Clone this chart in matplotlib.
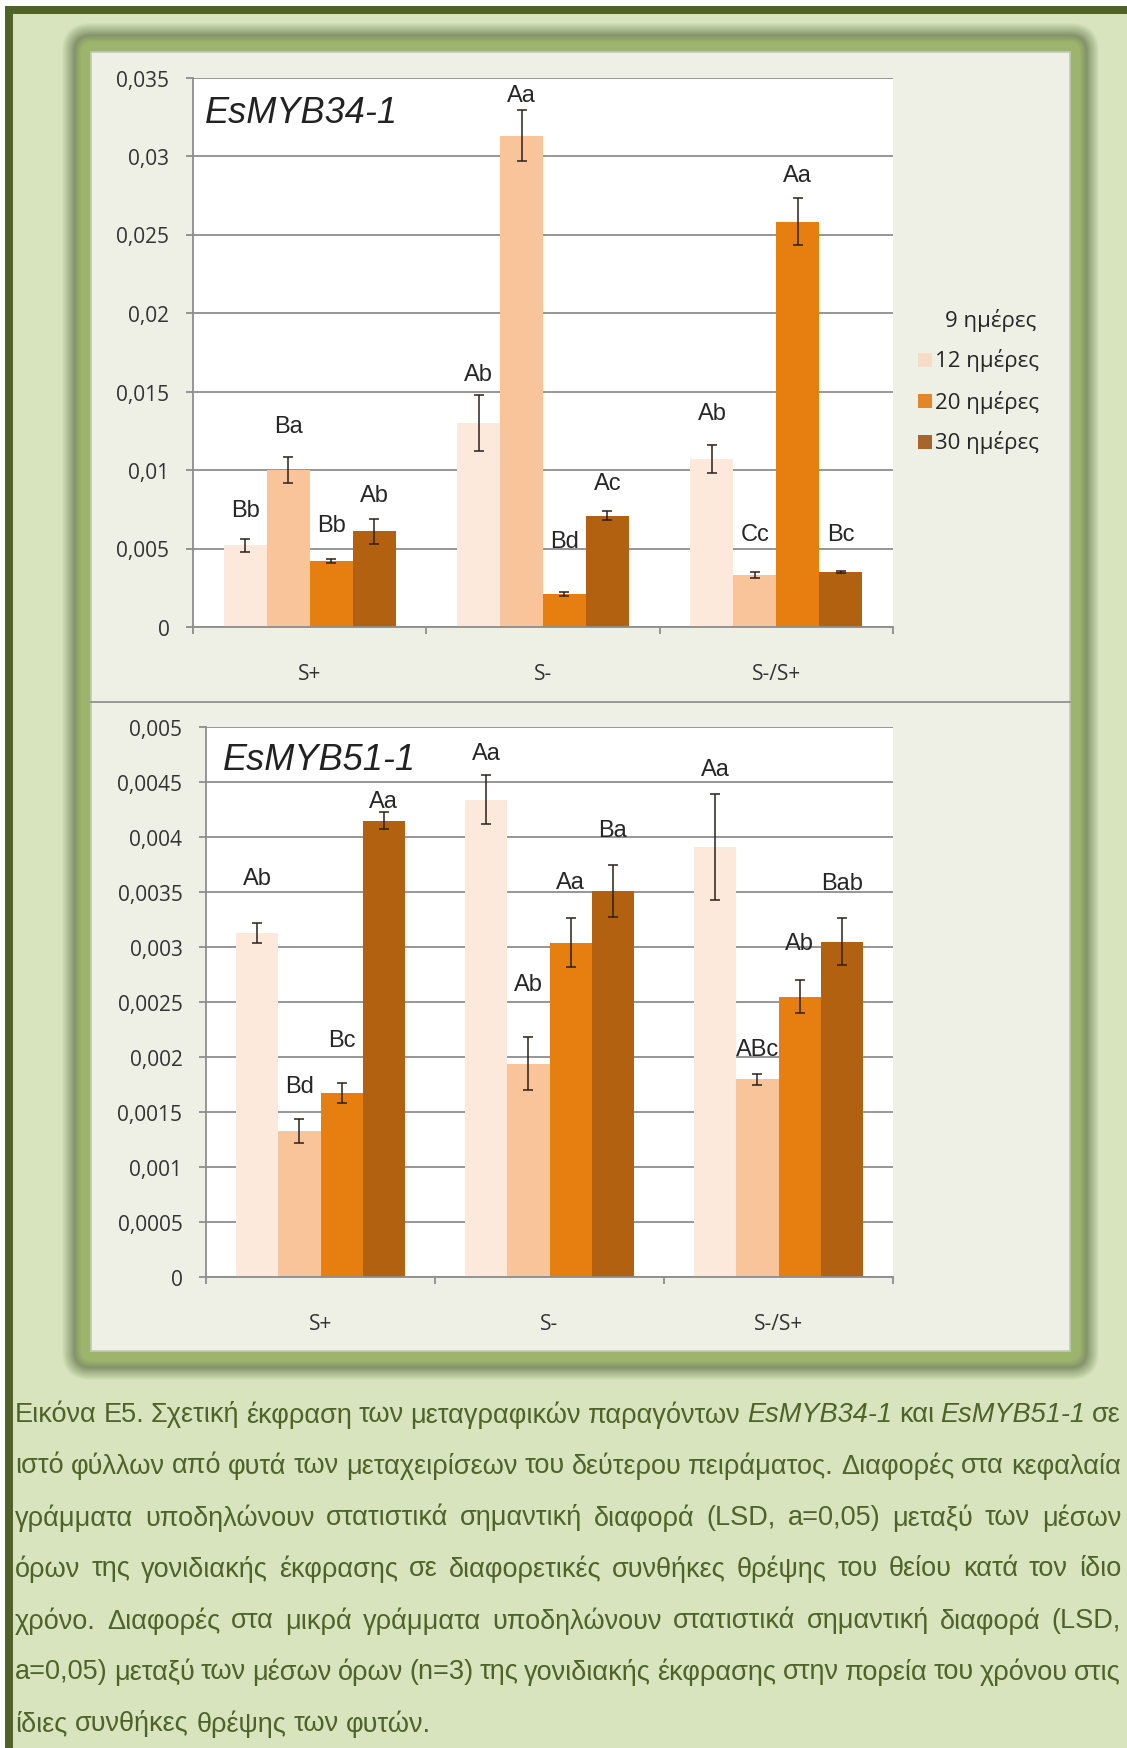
import numpy as np
import matplotlib.pyplot as plt
from matplotlib.patches import Rectangle, FancyBboxPatch
from matplotlib.colors import to_rgb


W, H = 1127, 1749

groups = ['S+', 'S-', 'S-/S+']
series = ['9 ημέρες', '12 ημέρες', '20 ημέρες', '30 ημέρες']

# EsMYB34-1, one list per time point (S+, S-, S-/S+)
myb34_9 = [0.0052, 0.0130, 0.0107]
myb34_12 = [0.0100, 0.0313, 0.0033]
myb34_20 = [0.0042, 0.0021, 0.0258]
myb34_30 = [0.0061, 0.0071, 0.0035]
myb34_9_err = [0.0004, 0.0018, 0.0009]
myb34_12_err = [0.0008, 0.0016, 0.0002]
myb34_20_err = [0.0001, 0.0001, 0.0015]
myb34_30_err = [0.0008, 0.0003, 0.00005]
myb34_9_lab = ['Bb', 'Ab', 'Ab']
myb34_12_lab = ['Ba', 'Aa', 'Cc']
myb34_20_lab = ['Bb', 'Bd', 'Aa']
myb34_30_lab = ['Ab', 'Ac', 'Bc']

# EsMYB51-1
myb51_9 = [0.00313, 0.00434, 0.00391]
myb51_12 = [0.00133, 0.00194, 0.00180]
myb51_20 = [0.00167, 0.00304, 0.00255]
myb51_30 = [0.00415, 0.00351, 0.00305]
myb51_9_err = [0.00009, 0.00022, 0.00048]
myb51_12_err = [0.00011, 0.00024, 0.00005]
myb51_20_err = [0.00009, 0.00022, 0.00015]
myb51_30_err = [0.00008, 0.00024, 0.00021]
myb51_9_lab = ['Ab', 'Aa', 'Aa']
myb51_12_lab = ['Bd', 'Ab', 'ABc']
myb51_20_lab = ['Bc', 'Aa', 'Ab']
myb51_30_lab = ['Aa', 'Ba', 'Bab']

# where the letter labels sit (data units), as placed in the original
lab34_y = [[0.00745, 0.0161, 0.0136], [0.0128, 0.0339, 0.0059],
           [0.0065, 0.0055, 0.0288], [0.0084, 0.0092, 0.0059]]
lab51_y = [[0.00363, 0.00476, 0.00462], [0.00174, 0.00266, 0.00207],
           [0.00215, 0.00359, 0.00304], [0.00433, 0.00406, 0.00358]]

caption = [
    'Εικόνα Ε5. Σχετική έκφραση των μεταγραφικών παραγόντων *EsMYB34-1* και *EsMYB51-1* σε',
    'ιστό φύλλων από φυτά των μεταχειρίσεων του δεύτερου πειράματος. Διαφορές στα κεφαλαία',
    'γράμματα υποδηλώνουν στατιστικά σημαντική διαφορά (LSD, a=0,05) μεταξύ των μέσων',
    'όρων της γονιδιακής έκφρασης σε διαφορετικές συνθήκες θρέψης του θείου κατά τον ίδιο',
    'χρόνο. Διαφορές στα μικρά γράμματα υποδηλώνουν στατιστικά σημαντική διαφορά (LSD,',
    'a=0,05) μεταξύ των μέσων όρων (n=3) της γονιδιακής έκφρασης στην πορεία του χρόνου στις',
    'ίδιες συνθήκες θρέψης των φυτών.',
]

colors = ['#fce9dc', '#f9c49a', '#e67f0f', '#b1610f']
legend_sw = [None, '#f6dcc6', '#e3862a', '#a6652c']
green_dark = '#4f6228'
green_bg = '#d7e4bd'
panel_c = '#eef0e5'
grid_c = '#8d8d8d'
sans = ['Open Sans', 'DejaVu Sans']

fig = plt.figure(figsize=(W / 100, H / 100), dpi=100, facecolor='white')
bg = fig.add_axes([0, 0, 1, 1])
bg.set_xlim(0, W)
bg.set_ylim(H, 0)
bg.axis('off')

# page frame
bg.add_patch(Rectangle((5, 7), W, H, color=green_dark, lw=0))
bg.add_patch(Rectangle((13, 15), W, H, color=green_bg, lw=0))

# glow around the chart picture
px0, py0, px1, py1 = 91, 53, 1070, 1352


def mix(c1, c2, t):
    a, b = np.array(to_rgb(c1)), np.array(to_rgb(c2))
    return tuple(a + (b - a) * t)


for d in range(30, 0, -1):
    if d <= 10:
        c = '#9db46c'
    elif d <= 17:
        c = mix('#9db46c', '#84946a', (d - 10) / 7)
    else:
        c = mix('#84946a', green_bg, (d - 17) / 13)
    bg.add_patch(FancyBboxPatch((px0 - d, py0 - d), px1 - px0 + 2 * d, py1 - py0 + 2 * d,
                                boxstyle='round,pad=0,rounding_size=%d' % d,
                                color=c, lw=0))
bg.add_patch(Rectangle((px0, py0), px1 - px0, py1 - py0, facecolor=panel_c,
                       edgecolor='#c4c7bd', lw=1.2))
bg.plot([px0, px1], [703, 703], color='#8a8a8a', lw=1.2)

# legend (as drawn in the original: first row has no visible swatch)
for i, name in enumerate(series):
    yy = 320 + i * 41
    if legend_sw[i]:
        bg.add_patch(Rectangle((918, yy - 7), 14, 14, color=legend_sw[i], lw=0))
    bg.text(935 + (10 if i == 0 else 0), yy, name, fontsize=16, family=sans,
            color='#262626', va='center', ha='left')


def px_axes(l, t, r, b):
    return fig.add_axes([l / W, 1 - b / H, (r - l) / W, (b - t) / H])


def draw_chart(ax, means, errs, labels, label_y, ymax, step, title, tpos):
    x = np.arange(len(groups))
    bw = 0.184
    offs = (np.arange(4) - 1.5) * bw
    for i in range(4):
        ax.bar(x + offs[i], means[i], width=bw, color=colors[i], zorder=2)
        ax.errorbar(x + offs[i], means[i], yerr=errs[i], fmt='none',
                    ecolor='#2b2019', elinewidth=1.1, capsize=3.5,
                    capthick=1.1, zorder=3)
        for xi, lab, ly in zip(x + offs[i], labels[i], label_y[i]):
            ax.text(xi, ly, lab, ha='center', va='center', fontsize=17,
                    family='Liberation Sans', color='#262626', zorder=4)
    ax.set_xlim(-0.5, len(groups) - 0.5)
    ax.set_ylim(0, ymax)
    ticks = np.round(np.arange(0, ymax + step / 2, step), 5)
    ax.set_yticks(ticks)
    ax.set_yticklabels([('%g' % t).replace('.', ',') for t in ticks])
    ax.set_xticks(np.arange(len(groups) + 1) - 0.5)
    ax.set_xticklabels([])
    ax.set_xticks(x, minor=True)
    ax.set_xticklabels(groups, minor=True)
    ax.yaxis.grid(True, color=grid_c, lw=1.3)
    ax.set_axisbelow(True)
    for s in ['top', 'right']:
        ax.spines[s].set_visible(False)
    for s in ['left', 'bottom']:
        ax.spines[s].set_color(grid_c)
        ax.spines[s].set_linewidth(1.3)
    ax.tick_params(axis='y', direction='out', length=5, width=1.3, color=grid_c,
                   labelcolor='#333333', labelsize=15, pad=12)
    ax.tick_params(axis='x', which='major', direction='out', length=5, width=1.3,
                   color=grid_c)
    ax.tick_params(axis='x', which='minor', length=0, pad=26,
                   labelcolor='#333333', labelsize=15)
    for t in ax.get_yticklabels() + ax.get_xticklabels(minor=True):
        t.set_family(sans)
    ax.text(tpos[0], tpos[1], title, transform=ax.transAxes, ha='left',
            va='center', fontsize=26, style='italic', family='Liberation Sans',
            color='#222222', zorder=5)


ax1 = px_axes(193, 78.5, 893, 628)
draw_chart(ax1, [myb34_9, myb34_12, myb34_20, myb34_30],
           [myb34_9_err, myb34_12_err, myb34_20_err, myb34_30_err],
           [myb34_9_lab, myb34_12_lab, myb34_20_lab, myb34_30_lab],
           lab34_y, 0.035, 0.005, 'EsMYB34-1', (0.017, 0.937))

ax2 = px_axes(206, 728, 893, 1278)
draw_chart(ax2, [myb51_9, myb51_12, myb51_20, myb51_30],
           [myb51_9_err, myb51_12_err, myb51_20_err, myb51_30_err],
           [myb51_9_lab, myb51_12_lab, myb51_20_lab, myb51_30_lab],
           lab51_y, 0.005, 0.0005, 'EsMYB51-1', (0.025, 0.94))

# justified caption
renderer = fig.canvas.get_renderer()
cap_size = 19.5
x_left, x_right = 15, 1121


def text_w(s, italic):
    t = bg.text(0, 0, s, fontsize=cap_size, family='Liberation Sans',
                style='italic' if italic else 'normal')
    w = t.get_window_extent(renderer).width
    t.remove()
    return w


space_w = text_w('a a', False) - text_w('aa', False)
for li, line in enumerate(caption):
    y = 1415 + li * 51.5
    words = [(w.strip('*'), w.startswith('*')) for w in line.split(' ')]
    widths = [text_w(w, it) for w, it in words]
    if li < len(caption) - 1:
        gap = (x_right - x_left - sum(widths)) / (len(words) - 1)
    else:
        gap = space_w
    xx = x_left
    for (w, it), wd in zip(words, widths):
        bg.text(xx, y, w, fontsize=cap_size, family='Liberation Sans',
                style='italic' if it else 'normal', color=green_dark,
                va='center', ha='left')
        xx += wd + gap

fig.savefig('out.png', dpi=100, facecolor=fig.get_facecolor())
